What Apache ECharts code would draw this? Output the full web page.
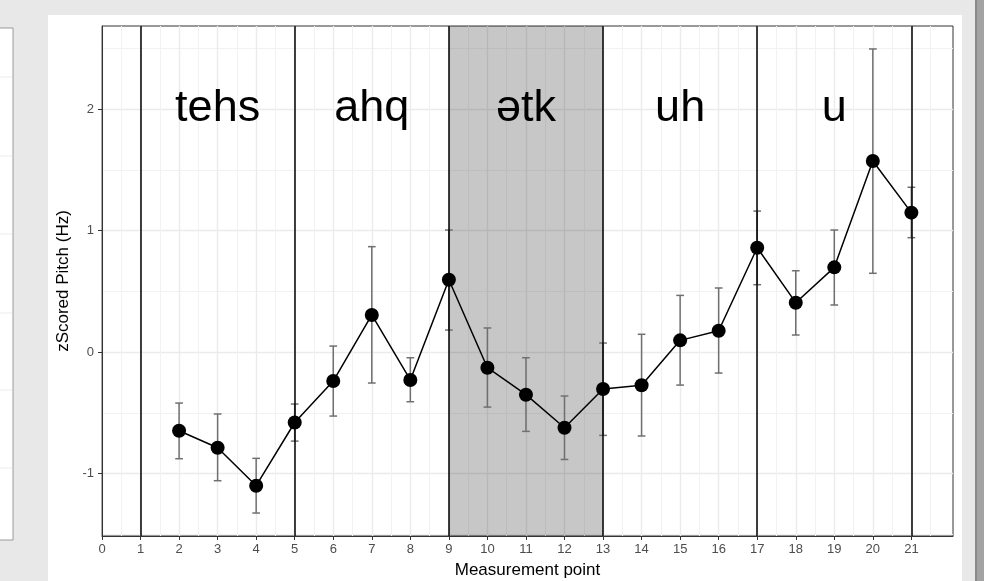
<!DOCTYPE html>
<html>
<head>
<meta charset="utf-8">
<script src="https://cdn.jsdelivr.net/npm/echarts@6/dist/echarts.min.js"></script>
<style>
html,body{margin:0;padding:0;background:#e8e8e8;}
#chart{width:984px;height:581px;}
</style>
</head>
<body>
<div id="chart"></div>
<script>
// ---- data ----
const measurePoints = [2,3,4,5,6,7,8,9,10,11,12,13,14,15,16,17,18,19,20,21];
const pitch   = [-0.648,-0.788,-1.100,-0.580,-0.239,0.305,-0.230,0.595,-0.129,-0.351,-0.623,-0.304,-0.274,0.096,0.175,0.858,0.406,0.697,1.572,1.147];
const errLow  = [-0.878,-1.059,-1.325,-0.733,-0.527,-0.255,-0.409,0.181,-0.453,-0.653,-0.884,-0.686,-0.691,-0.272,-0.173,0.554,0.140,0.387,0.648,0.941];
const errHigh = [-0.420,-0.510,-0.875,-0.428,0.049,0.867,-0.047,1.004,0.198,-0.047,-0.362,0.074,0.146,0.466,0.527,1.160,0.669,1.004,2.494,1.356];
const boundaries = [1,5,9,13,17,21];
const shadedRange = [9,13];
const syllables = ['tehs','ahq','ətk','uh','u'];
const syllableX = [3,7,11,15,19];
const syllableY = 2;
const xTicks = [0,1,2,3,4,5,6,7,8,9,10,11,12,13,14,15,16,17,18,19,20,21];
const yTicks = [-1,0,1,2];

const FONT = "'Liberation Sans', Arial, Helvetica, sans-serif";
const chart = echarts.init(document.getElementById('chart'), null, {renderer:'canvas'});

const errData = measurePoints.map((x,i)=>[x, errLow[i], errHigh[i]]);
const lineData = measurePoints.map((x,i)=>[x, pitch[i]]);
const labelData = syllableX.map((x,i)=>({value:[x, syllableY], name:syllables[i]}));

const option = {
  backgroundColor: '#e8e8e8',
  animation: false,
  graphic: [
    {type:'rect', z:-10, shape:{x:48,y:15,width:914,height:570}, style:{fill:'#ffffff'}},
    {type:'rect', z:-10, shape:{x:-2,y:28,width:15,height:512}, style:{fill:'#ffffff', stroke:'#9a9a9a', lineWidth:1}},
    {type:'line', z:-9, shape:{x1:0,y1:77,x2:12,y2:77}, style:{stroke:'#ececec',lineWidth:1}},
    {type:'line', z:-9, shape:{x1:0,y1:156,x2:12,y2:156}, style:{stroke:'#ececec',lineWidth:1}},
    {type:'line', z:-9, shape:{x1:0,y1:234,x2:12,y2:234}, style:{stroke:'#ececec',lineWidth:1}},
    {type:'line', z:-9, shape:{x1:0,y1:313,x2:12,y2:313}, style:{stroke:'#ececec',lineWidth:1}},
    {type:'line', z:-9, shape:{x1:0,y1:390,x2:12,y2:390}, style:{stroke:'#ececec',lineWidth:1}},
    {type:'line', z:-9, shape:{x1:0,y1:468,x2:12,y2:468}, style:{stroke:'#ececec',lineWidth:1}},
    {type:'rect', z:-10, shape:{x:975,y:0,width:9,height:581}, style:{fill:'#a3a3a3'}},
    {type:'rect', z:-10, shape:{x:975,y:0,width:2,height:581}, style:{fill:'#8a8a8a'}}
  ],
  grid: {left:102, right:31, top:26, bottom:45, show:true, borderColor:'#333333', borderWidth:1,
         backgroundColor:'transparent', containLabel:false, outerBoundsMode:'none'},
  xAxis: {
    type:'value', min:0, max:22.08, splitNumber:22,
    name:'Measurement point', nameLocation:'middle', nameGap:26,
    nameTextStyle:{fontFamily:FONT, fontSize:17, color:'#000'},
    axisLine:{show:true, onZero:false, lineStyle:{color:'#333333', width:1}},
    axisTick:{show:true, length:4, customValues:xTicks, lineStyle:{color:'#333333'}},
    axisLabel:{fontFamily:FONT, fontSize:13, color:'#4d4d4d', margin:7, customValues:xTicks,
      formatter:v=> xTicks.indexOf(v)>=0 ? String(v) : ''},
    splitLine:{show:true, lineStyle:{color:'#ebebeb', width:1.4}},
    minorTick:{show:false, splitNumber:2},
    minorSplitLine:{show:true, lineStyle:{color:'#f2f2f2', width:1}}
  },
  yAxis: {
    type:'value', min:-1.514, max:2.683,
    name:'zScored Pitch (Hz)', nameLocation:'middle', nameGap:29,
    nameTextStyle:{fontFamily:FONT, fontSize:17, color:'#000'},
    axisLine:{show:true, onZero:false, lineStyle:{color:'#333333', width:1}},
    axisTick:{show:true, length:4, customValues:yTicks, lineStyle:{color:'#333333'}},
    axisLabel:{fontFamily:FONT, fontSize:13, color:'#4d4d4d', margin:8, customValues:yTicks,
      formatter:v=> yTicks.indexOf(v)>=0 ? String(v) : ''},
    splitLine:{show:true, lineStyle:{color:'#ebebeb', width:1.4}},
    minorTick:{show:false, splitNumber:2},
    minorSplitLine:{show:true, lineStyle:{color:'#f2f2f2', width:1}}
  },
  series: [
    {
      type:'line', name:'shade', data:[], z:1, silent:true,
      markArea:{silent:true, itemStyle:{color:'rgba(0,0,0,0.22)'},
        data:[[{xAxis:shadedRange[0]},{xAxis:shadedRange[1]}]]}
    },
    {
      type:'custom', name:'err', z:2, silent:true,
      data: errData,
      encode:{x:0, y:[1,2]},
      renderItem:function(params, api){
        const x = api.value(0), lo = api.value(1), hi = api.value(2);
        const t = api.coord([x, hi]), b = api.coord([x, lo]);
        const hw = api.size([0.2, 0])[0] / 2;
        const st = {stroke:'#707070', lineWidth:1.5};
        return {type:'group', children:[
          {type:'line', shape:{x1:t[0],y1:t[1],x2:b[0],y2:b[1]}, style:st},
          {type:'line', shape:{x1:t[0]-hw,y1:t[1],x2:t[0]+hw,y2:t[1]}, style:st},
          {type:'line', shape:{x1:b[0]-hw,y1:b[1],x2:b[0]+hw,y2:b[1]}, style:st}
        ]};
      }
    },
    {
      type:'line', name:'pitch', z:3, data: lineData,
      symbol:'circle', symbolSize:14, showAllSymbol:true,
      lineStyle:{color:'#000', width:1.5},
      itemStyle:{color:'#000'},
      markLine:{silent:true, symbol:['none','none'], label:{show:false},
        lineStyle:{color:'#000', width:1.5, type:'solid'},
        data: boundaries.map(v=>({xAxis:v}))}
    },
    {
      type:'scatter', name:'labels', z:4, symbolSize:0, silent:true,
      itemStyle:{opacity:1, color:'#000'},
      data: labelData,
      label:{show:true, position:'inside', formatter:'{b}', fontFamily:FONT, fontSize:45, color:'#000', opacity:1, textBorderWidth:0}
    }
  ]
};
chart.setOption(option);
</script>
</body>
</html>
